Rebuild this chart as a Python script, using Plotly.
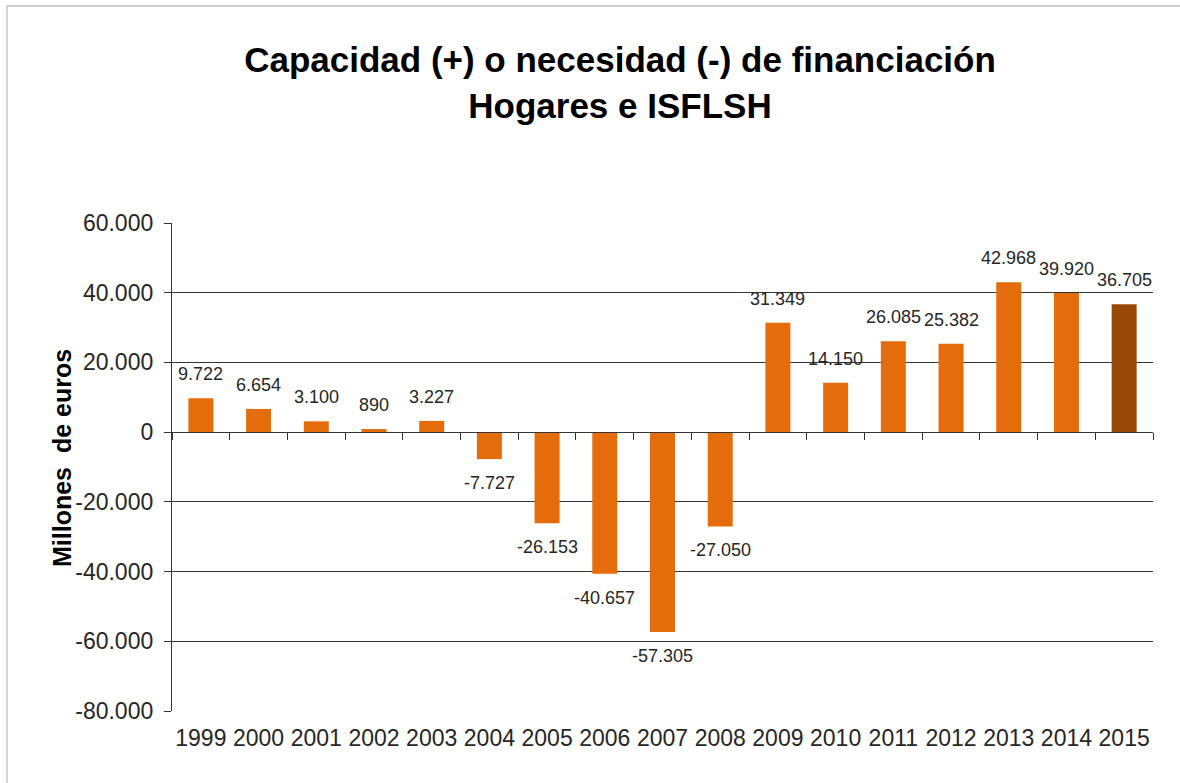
import plotly.graph_objects as go

years = ["1999", "2000", "2001", "2002", "2003", "2004", "2005", "2006", "2007",
         "2008", "2009", "2010", "2011", "2012", "2013", "2014", "2015"]
values = [9722, 6654, 3100, 890, 3227, -7727, -26153, -40657, -57305,
          -27050, 31349, 14150, 26085, 25382, 42968, 39920, 36705]
highlight_year = "2015"
y_ticks = [-80000, -60000, -40000, -20000, 0, 20000, 40000, 60000]

BASE = "#E46C0A"
HIGHLIGHT = "#984807"
FONT = "Liberation Sans, Arial, sans-serif"
TXT = "#262626"


def fmt(v):
    return f"{v:,}".replace(",", ".")


colors = [HIGHLIGHT if y == highlight_year else BASE for y in years]

fig = go.Figure()
fig.add_trace(go.Bar(
    x=years, y=values, marker=dict(color=colors, line=dict(width=0)),
    showlegend=False, hoverinfo="x+y",
))
# helper trace for the zero-line category axis (ticks at boundaries)
fig.add_trace(go.Scatter(
    x=years, y=[None] * len(years), xaxis="x2", mode="lines",
    showlegend=False, hoverinfo="skip",
))

annotations = []
for i, (yr, v) in enumerate(zip(years, values)):
    pos = v >= 0
    annotations.append(dict(
        x=i, y=v, xref="x", yref="y", text=fmt(v), showarrow=False,
        yanchor="bottom" if pos else "top", yshift=12 if pos else -12,
        font=dict(family=FONT, size=18, color=TXT),
    ))

# plot area: left 172, right 1153, top 223, bottom 711
L, R, T, B = 172, 1153, 223, 711
W, H = R - L, B - T

annotations.append(dict(
    text="Millones  de euros", textangle=-90, showarrow=False,
    xref="paper", yref="paper", x=(62 - L) / W, y=(B - 458) / H,
    xanchor="center", yanchor="middle",
    font=dict(family=FONT, size=25, color="#000000", weight="bold"),
))

fig.update_layout(
    width=1180, height=783,
    margin=dict(l=L, r=1180 - R, t=T, b=783 - B),
    paper_bgcolor="white", plot_bgcolor="white",
    separators=",.",
    bargap=0.567,
    font=dict(family=FONT, color=TXT),
    title=dict(
        text="Capacidad (+) o necesidad (-) de financiación<br>Hogares e ISFLSH",
        x=620 / 1180, xref="container", xanchor="center",
        y=1 - 72 / 783, yref="container", yanchor="top",
        font=dict(family=FONT, size=35, color="#000000", weight="bold"),
    ),
    xaxis=dict(
        type="category", categoryarray=years, range=[-0.5, len(years) - 0.5],
        showline=False, showgrid=False, ticks="", zeroline=False,
        tickfont=dict(family=FONT, size=23, color=TXT),
        ticklabelstandoff=11,
    ),
    xaxis2=dict(
        type="category", categoryarray=years, range=[-0.5, len(years) - 0.5],
        overlaying="x", anchor="free", position=(0 - y_ticks[0]) / (y_ticks[-1] - y_ticks[0]),
        showline=True, linecolor="#333333", linewidth=1.3,
        ticks="outside", tickson="boundaries", ticklen=7, tickcolor="#333333",
        tickwidth=1.3, showticklabels=False, showgrid=False, zeroline=False,
    ),
    yaxis=dict(
        range=[y_ticks[0], y_ticks[-1]], tickvals=y_ticks,
        ticktext=[fmt(v) for v in y_ticks],
        showgrid=True, gridcolor="#333333", gridwidth=1.3,
        zeroline=False, showline=True, linecolor="#333333", linewidth=1.3,
        ticks="outside", ticklen=7, tickcolor="#333333", tickwidth=1.3,
        tickfont=dict(family=FONT, size=23, color=TXT),
        ticklabelstandoff=6,
    ),
    annotations=annotations,
    shapes=[dict(
        type="rect", xref="paper", yref="paper",
        x0=(7 - L) / W, x1=1.5, y0=-0.5, y1=1 + (T - 6) / H,
        line=dict(color="#BFBFBF", width=1.3), fillcolor="rgba(0,0,0,0)",
        layer="below",
    )],
)

fig.write_html("out.html", config={"displayModeBar": False},
               post_script="document.body.style.margin='0';")
